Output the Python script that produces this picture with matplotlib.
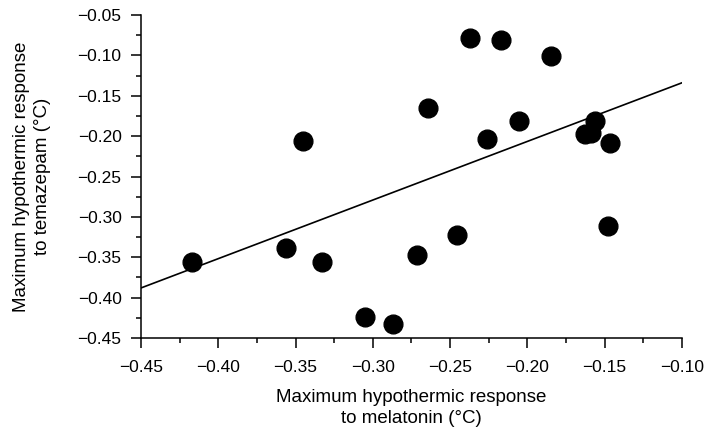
import numpy as np
import matplotlib
matplotlib.use("Agg")
import matplotlib.pyplot as plt
from matplotlib.ticker import MultipleLocator

plt.rcParams.update({"font.family": ["Liberation Sans", "DejaVu Sans"], "font.size": 12.5})

# individual responses (deg C)
melatonin = [-0.417, -0.356, -0.345, -0.333, -0.305, -0.287, -0.2715, -0.264,
             -0.2456, -0.237, -0.226, -0.217, -0.2055, -0.185, -0.163, -0.159,
             -0.156, -0.1467, -0.148]
temazepam = [-0.356, -0.338, -0.2065, -0.3556, -0.424, -0.433, -0.347, -0.1655,
             -0.322, -0.0786, -0.204, -0.081, -0.1817, -0.101, -0.197, -0.196,
             -0.1817, -0.208, -0.311]
# fitted regression line end points
fit_x = [-0.45, -0.10]
fit_y = [-0.388, -0.134]

fig = plt.figure(figsize=(7.14, 4.37), dpi=100)
ax = fig.add_axes([0.1975, 0.2265, 0.7575, 0.7392])

ax.plot(fit_x, fit_y, color="black", lw=1.2, zorder=2)
ax.plot(melatonin, temazepam, "o", color="black", ms=13.5, zorder=3, clip_on=False)

ax.set_xlim(-0.45, -0.10)
ax.set_ylim(-0.45, -0.05)
ax.xaxis.set_major_locator(MultipleLocator(0.05))
ax.yaxis.set_major_locator(MultipleLocator(0.05))
ax.xaxis.set_minor_locator(MultipleLocator(0.025))
ax.yaxis.set_minor_locator(MultipleLocator(0.025))
ax.xaxis.set_major_formatter(lambda v, p: f"{v:.2f}".replace("-", "\u2212"))
ax.yaxis.set_major_formatter(lambda v, p: f"{v:.2f}".replace("-", "\u2212"))

for s in ["top", "right"]:
    ax.spines[s].set_visible(False)
for s in ["left", "bottom"]:
    ax.spines[s].set_linewidth(1.1)
ax.tick_params(which="major", direction="out", length=7, width=1.1, labelsize=12.5)
ax.tick_params(axis="y", which="major", pad=7)
ax.tick_params(axis="x", which="major", pad=8.5)
ax.tick_params(which="minor", direction="out", length=3.5, width=1.1)

ax.set_xlabel("Maximum hypothermic response\nto melatonin (°C)", fontsize=13.5, linespacing=1.35,
              va="center")
ax.xaxis.set_label_coords(0.5, -0.217)
ax.set_ylabel("Maximum hypothermic response\nto temazepam (°C)", fontsize=13.5, linespacing=1.35,
              va="center")
ax.yaxis.set_label_coords(-0.2015, 0.5)

fig.savefig("out.png", dpi=100)
